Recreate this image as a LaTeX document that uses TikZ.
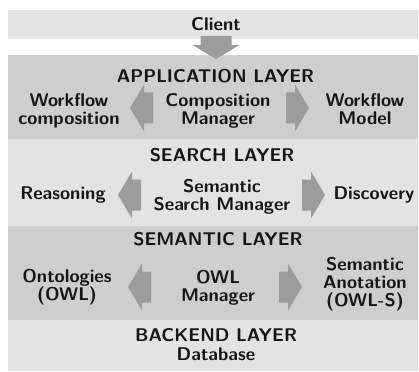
\documentclass[tikz,border=0pt]{standalone}
\usetikzlibrary{positioning}
\definecolor{bandlight}{HTML}{E3E3E3}
\definecolor{banddark}{HTML}{CECECE}
\definecolor{arrowgray}{HTML}{9C9C9C}
\definecolor{txt}{HTML}{151515}
\begin{document}
\begin{tikzpicture}[x=1pt,y=-1pt,
  band/.style={draw=none,minimum width=410pt,inner sep=0pt,anchor=center},
  lightband/.style={band,fill=bandlight},
  darkband/.style={band,fill=banddark},
  lbl/.style={font=\sffamily\bfseries\fontsize{18.4}{17.8}\selectfont,text=txt,align=center,inner sep=0pt},
  barrow/.pic={\fill[arrowgray] (0,0) -- (-14,-23.5) -- (-14,-15.5) -- (-23,-15.5) -- (-23,15.5) -- (-14,15.5) -- (-14,23.5) -- cycle;}
]
\useasboundingbox (0,0) rectangle (419,371);
% bands
\node[lightband,minimum height=29pt] (clientband) at (213,24.5) {};
\node[darkband,minimum height=84pt] (appband) at (213,97) {};
\node[lightband,minimum height=87pt] (searchband) at (213,182.5) {};
\node[darkband,minimum height=94pt] (semband) at (213,273) {};
\node[lightband,minimum height=51pt] (backband) at (213,345.5) {};
% arrows
\pic[rotate=-90] at (216,59) {barrow};
\pic[rotate=180] at (130,108) {barrow};
\pic at (309,108) {barrow};
\pic[rotate=180] at (118,195) {barrow};
\pic at (325,195) {barrow};
\pic[rotate=180] at (128,287) {barrow};
\pic at (302,287) {barrow};
% texts
\node[lbl] (client) at (216,24) {Client};
\node[lbl] (applayer) at (215.5,76.5) {APPLICATION LAYER};
\node[lbl] (wfcomp) at (69,111) {Workflow\\composition};
\node[lbl] (compmgr) at (218,111) {Composition\\Manager};
\node[lbl] (wfmodel) at (365,109.5) {Workflow\\Model};
\node[lbl] (searchlayer) at (222,155) {SEARCH LAYER};
\node[lbl] (reasoning) at (63,195) {Reasoning};
\node[lbl] (ssm) at (222,196.5) {Semantic\\Search Manager};
\node[lbl] (discovery) at (374,195) {Discovery};
\node[lbl] (semlayer) at (218,239) {SEMANTIC LAYER};
\node[lbl] (onto) at (67,287.5) {Ontologies\\(OWL)};
\node[lbl] (owlmgr) at (218,287.5) {OWL\\Manager};
\node[lbl] (semanot) at (365,284) {Semantic\\Anotation\\(OWL-S)};
\node[lbl] (backlayer) at (216,335) {BACKEND LAYER};
\node[lbl] (database) at (216,354.5) {Database};
\end{tikzpicture}
\end{document}
